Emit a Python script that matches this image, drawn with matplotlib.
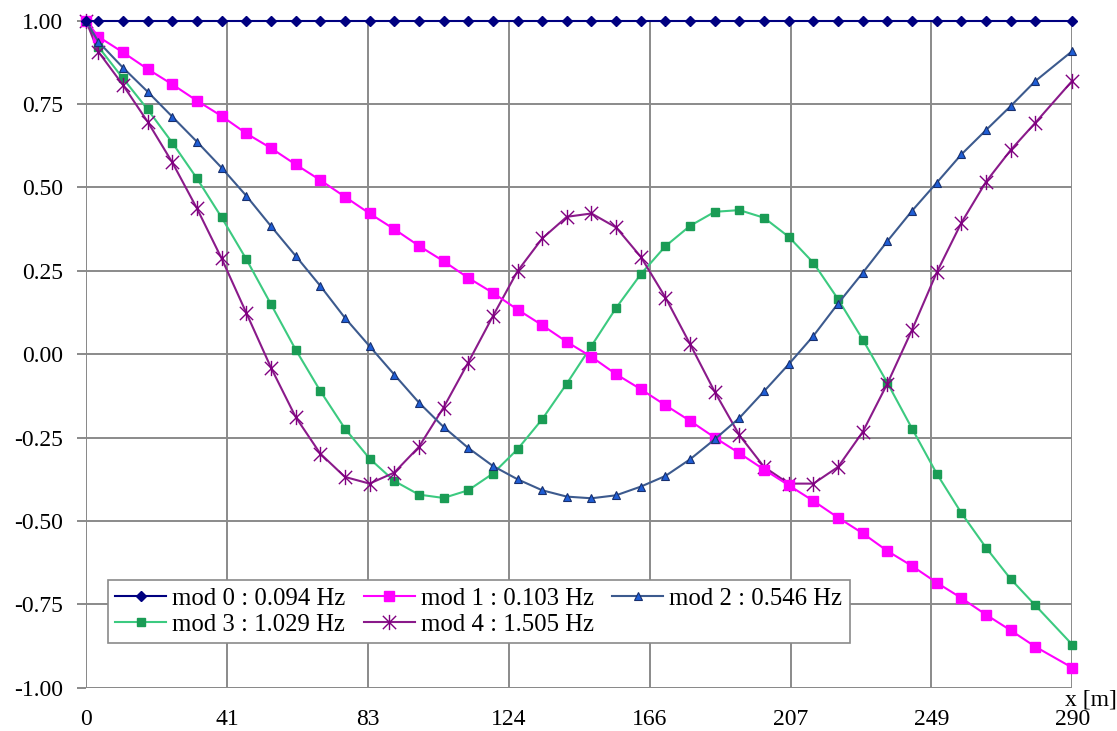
import numpy as np
import matplotlib
matplotlib.use('Agg')
import matplotlib.pyplot as plt
from matplotlib.path import Path

plt.rcParams['font.family'] = ['Liberation Serif', 'DejaVu Serif']
plt.rcParams['font.size'] = 17

# positions along the bridge [m]
x = [0.0, 3.625, 10.875, 18.125, 25.375, 32.625, 39.875, 47.125, 54.375, 61.625,
     68.875, 76.125, 83.375, 90.625, 97.875, 105.125, 112.375, 119.625, 126.875, 134.125,
     141.375, 148.625, 155.875, 163.125, 170.375, 177.625, 184.875, 192.125, 199.375, 206.625,
     213.875, 221.125, 228.375, 235.625, 242.875, 250.125, 257.375, 264.625, 271.875, 279.125,
     290.0]

mod0 = [1.0] * 41
mod1 = [1.0, 0.952, 0.905, 0.855, 0.809, 0.760, 0.714, 0.662, 0.618, 0.569,
        0.522, 0.472, 0.422, 0.375, 0.325, 0.279, 0.229, 0.184, 0.134, 0.087,
        0.037, -0.008, -0.060, -0.105, -0.153, -0.200, -0.250, -0.297, -0.346, -0.393,
        -0.440, -0.490, -0.537, -0.590, -0.635, -0.685, -0.731, -0.781, -0.828, -0.877,
        -0.940]
mod2 = [1.0, 0.937, 0.859, 0.787, 0.712, 0.637, 0.559, 0.475, 0.384, 0.295,
        0.205, 0.109, 0.024, -0.061, -0.145, -0.218, -0.281, -0.335, -0.375, -0.408,
        -0.427, -0.432, -0.423, -0.397, -0.365, -0.315, -0.255, -0.191, -0.111, -0.030,
        0.055, 0.152, 0.244, 0.339, 0.430, 0.514, 0.599, 0.672, 0.744, 0.819,
        0.909]
mod3 = [1.0, 0.922, 0.827, 0.734, 0.634, 0.527, 0.410, 0.285, 0.150, 0.014,
        -0.110, -0.223, -0.313, -0.380, -0.421, -0.431, -0.408, -0.358, -0.285, -0.195,
        -0.088, 0.025, 0.139, 0.240, 0.324, 0.385, 0.427, 0.432, 0.409, 0.352,
        0.274, 0.165, 0.044, -0.086, -0.223, -0.358, -0.476, -0.580, -0.674, -0.753,
        -0.871]
mod4 = [1.0, 0.907, 0.807, 0.697, 0.575, 0.437, 0.287, 0.124, -0.040, -0.188,
        -0.298, -0.368, -0.388, -0.355, -0.278, -0.160, -0.025, 0.114, 0.249, 0.347,
        0.412, 0.422, 0.380, 0.292, 0.170, 0.030, -0.113, -0.243, -0.338, -0.388,
        -0.388, -0.338, -0.233, -0.088, 0.073, 0.245, 0.394, 0.517, 0.612, 0.694,
        0.820]

labels = ['mod 0 : 0.094 Hz', 'mod 1 : 0.103 Hz', 'mod 2 : 0.546 Hz',
          'mod 3 : 1.029 Hz', 'mod 4 : 1.505 Hz']
xtick_labels = ['0', '41', '83', '124', '166', '207', '249', '290']
ytick_labels = ['-1.00', '-0.75', '-0.50', '-0.25', '0.00', '0.25', '0.50', '0.75', '1.00']

# excel-like star: X plus a vertical bar
star = Path([(-1, -1), (1, 1), (-1, 1), (1, -1), (0, -1.15), (0, 1.15)],
            [Path.MOVETO, Path.LINETO, Path.MOVETO, Path.LINETO, Path.MOVETO, Path.LINETO])

fig = plt.figure(figsize=(11.17, 7.31), dpi=100)
ax = fig.add_axes([0.077, 0.0592, 0.883, 0.9125])

grid_c = '#8a8a8a'
ax.set_xlim(0, 290)
ax.set_ylim(-1, 1)
ax.set_xticks(np.linspace(0, 290, 8))
ax.set_xticklabels(xtick_labels)
ax.set_yticks(np.linspace(-1, 1, 9))
ax.set_yticklabels(ytick_labels)
ax.grid(True, color=grid_c, linewidth=1.4)
ax.set_axisbelow(True)
for s in ax.spines.values():
    s.set_visible(False)
ax.axvline(0, color=grid_c, linewidth=1.4, zorder=0.5)
ax.axhline(-1, color=grid_c, linewidth=1.4, zorder=0.5)
ax.tick_params(axis='y', length=6.5, width=1.4, color=grid_c, pad=10)
ax.tick_params(axis='x', length=0, pad=15)

h0, = ax.plot(x, mod0, color='#000080', lw=1.5, marker='D', ms=5,
              mfc='#000080', mec='#000080', clip_on=False, zorder=5)
h1, = ax.plot(x, mod1, color='#ff00ff', lw=1.5, marker='s', ms=6.5,
              mfc='#ff00ff', mec='#ff00ff', clip_on=False, zorder=4)
h2, = ax.plot(x, mod2, color='#3c5a8e', lw=1.5, marker='^', ms=6,
              mfc='#1f5ed6', mec='#18306e', mew=0.8, clip_on=False, zorder=4)
h3, = ax.plot(x, mod3, color='#3cca80', lw=1.5, marker='s', ms=6,
              mfc='#1a9c55', mec='#1a9c55', clip_on=False, zorder=3)
h4, = ax.plot(x, mod4, color='#8a1a8a', lw=1.5, marker=star, ms=11,
              mfc='none', mec='#800080', mew=1.0, clip_on=False, zorder=3)

handles = [h0, h1, h2, h3, h4]
order = [0, 3, 1, 4, 2]
leg = ax.legend([handles[i] for i in order], [labels[i] for i in order],
                ncol=3, loc='lower left', bbox_to_anchor=(0.0223, 0.067),
                borderaxespad=0, fancybox=False, framealpha=1, fontsize=17.8,
                edgecolor=grid_c, handlelength=2.05, columnspacing=0.75,
                handletextpad=0.25, labelspacing=0.15, borderpad=0.3)
leg.get_frame().set_linewidth(1.2)

ax.text(0.993, -0.003, 'x [m]', transform=ax.transAxes, ha='left', va='top')

fig.savefig('out.png', dpi=100)
